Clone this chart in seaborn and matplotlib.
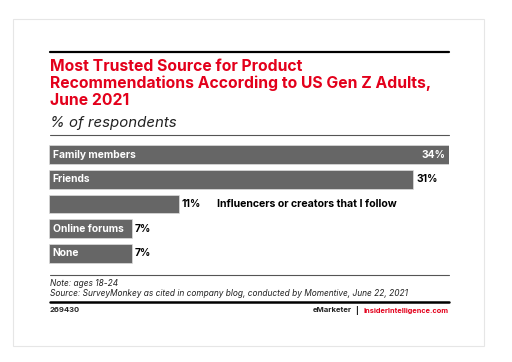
import matplotlib
matplotlib.use("Agg")
import matplotlib.pyplot as plt
from matplotlib.lines import Line2D
from matplotlib.patches import Rectangle
import pandas as pd
import seaborn as sns

# data
sources = ["Family members", "Friends", "Influencers or creators that I follow",
           "Online forums", "None"]
shares = [34, 31, 11, 7, 7]

W, H = 512, 362
RED = "#e3001b"
BAR = "#666666"


def fx(px):
    return px / W


def fy(py):
    return 1 - py / H


sns.set_theme(style="white")
plt.rcParams["font.family"] = ["Inter", "DejaVu Sans"]

fig = plt.figure(figsize=(W / 100, H / 100), dpi=100)
fig.patch.set_facecolor("white")

# card (behind everything)
fig.add_artist(Rectangle((fx(13), fy(346)), fx(484) - fx(13), fy(19) - fy(346),
                         transform=fig.transFigure, facecolor="none",
                         edgecolor="#e6e6e6", linewidth=0.8, zorder=-1))

# top rule + title
fig.add_artist(Line2D([fx(50), fx(449)], [fy(52), fy(52)], color="black", lw=1.6))
fig.text(fx(50), fy(59), "Most Trusted Source for Product\nRecommendations According to US Gen Z Adults,\nJune 2021",
         color=RED, fontsize=11.3, fontweight="bold", va="top", ha="left", linespacing=1.13)
fig.text(fx(50), fy(123), "% of respondents", fontsize=10.8, style="italic",
         va="center", ha="left", color="#222222")
fig.add_artist(Line2D([fx(50), fx(449)], [fy(135), fy(135)], color="#555555", lw=0.8))

# bars
df = pd.DataFrame({"source": sources, "share": shares})
ax = fig.add_axes([fx(49.3), fy(265.7), fx(448.7) - fx(49.3), fy(142.3) - fy(265.7)])
sns.barplot(data=df, x="share", y="source", color=BAR, width=0.76, saturation=1,
            edgecolor="#dddddd", linewidth=0.5, ax=ax)
ax.set_xlim(0, 34)
ax.set_ylim(4.5, -0.5)
ax.axis("off")

for i, (name, val) in enumerate(zip(sources, shares)):
    if i == 0:
        ax.text(val - 0.3, i, f"{val}%", color="white", fontsize=7.4, fontweight="bold",
                ha="right", va="center")
    else:
        ax.text(val + 0.25, i, f"{val}%", color="black", fontsize=7.4, fontweight="bold",
                ha="left", va="center")
    if i != 2:
        ax.text(0.3, i, name, color="white", fontsize=7.4, fontweight="bold",
                ha="left", va="center")
    else:
        ax.text(val + 3.3, i, name, color="black", fontsize=7.6, fontweight="bold",
                ha="left", va="center")

# footer
fig.add_artist(Line2D([fx(50), fx(449)], [fy(274.5), fy(274.5)], color="#555555", lw=0.8))
fig.text(fx(50), fy(283), "Note: ages 18-24", fontsize=6.0, style="italic",
         va="center", ha="left", color="#222222")
fig.text(fx(50), fy(294), "Source: SurveyMonkey as cited in company blog, conducted by Momentive, June 22, 2021",
         fontsize=6.0, style="italic", va="center", ha="left", color="#222222")
fig.add_artist(Line2D([fx(50), fx(449)], [fy(302), fy(302)], color="black", lw=1.8))
fig.text(fx(50), fy(310.5), "269430", fontsize=5.5, fontweight="bold", va="center", ha="left")
fig.text(fx(449), fy(310.5), "InsiderIntelligence.com", fontsize=5.3, fontweight="bold",
         color=RED, va="center", ha="right")
fig.text(fx(357), fy(310.5), "|", fontsize=5.6, fontweight="bold",
         color="#222222", va="center", ha="center")
fig.text(fx(351.5), fy(310.5), "eMarketer", fontsize=5.6, fontweight="bold",
         color="#222222", va="center", ha="right")

fig.savefig("out.png", dpi=100, facecolor="white")
